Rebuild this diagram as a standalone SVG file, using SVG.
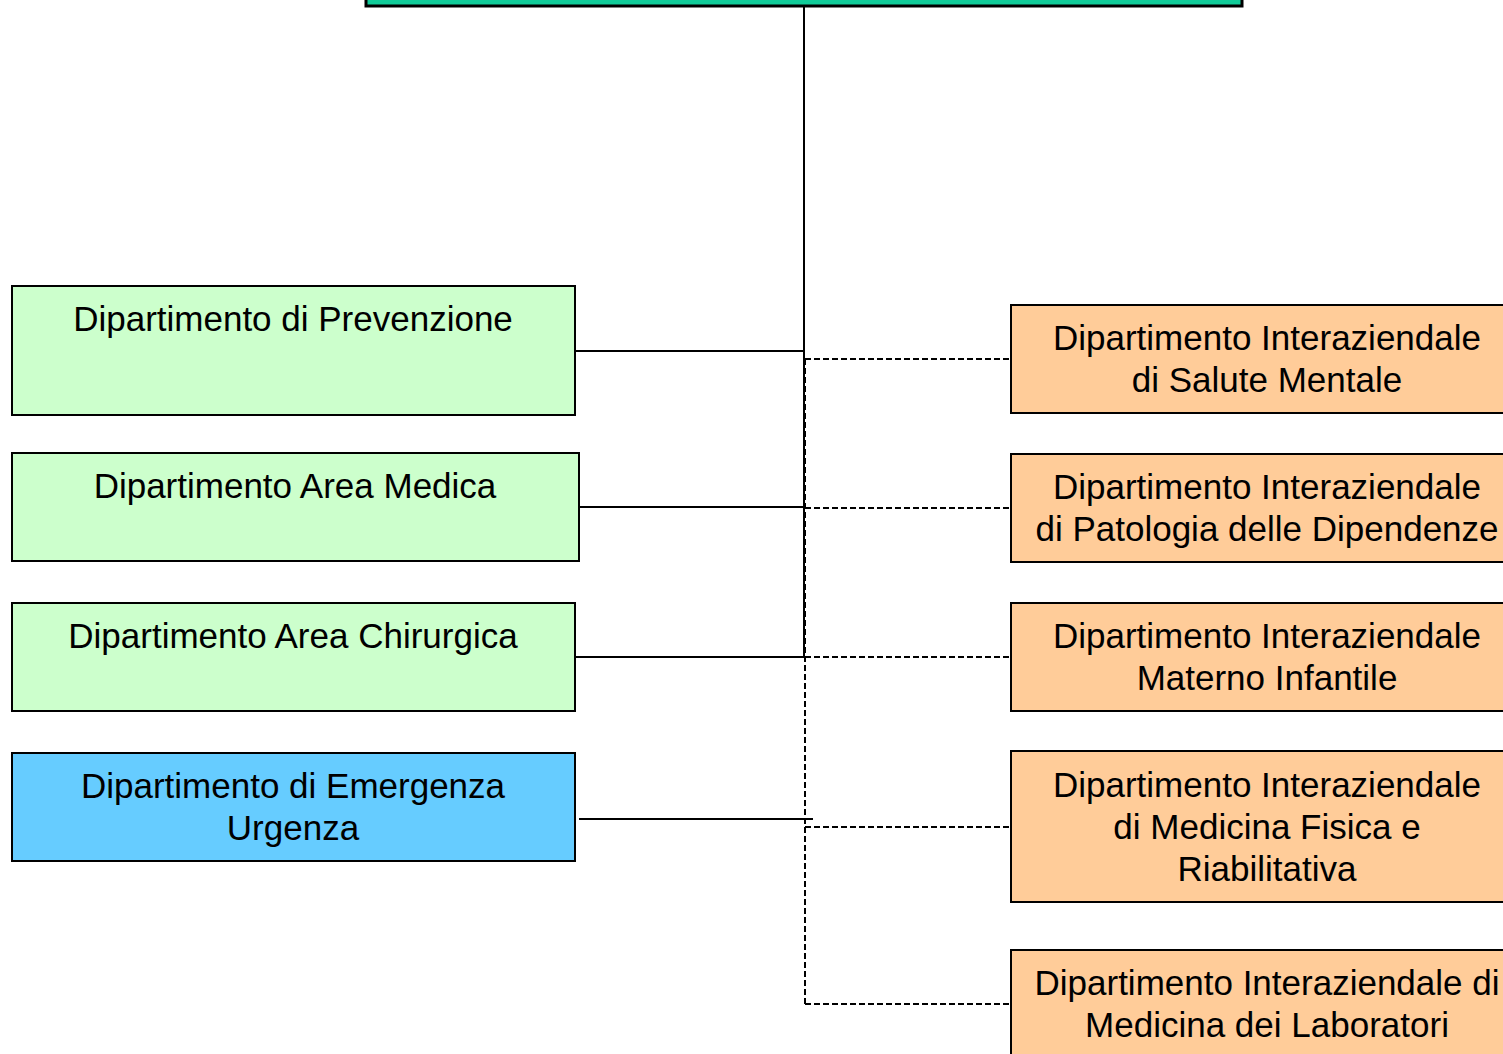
<svg xmlns="http://www.w3.org/2000/svg" width="1503" height="1054" viewBox="0 0 1503 1054">
<style>
.box{stroke:#000;stroke-width:2}
.g{fill:#CCFFCC}.b{fill:#66CCFF}.o{fill:#FFCC99}.t{fill:#11CC99;stroke-width:3}
text{font-family:"Liberation Sans",Arial,sans-serif;font-size:35px;fill:#000;text-anchor:middle}
.s{stroke:#000;stroke-width:2;fill:none}
.d{stroke:#000;stroke-width:2;fill:none;stroke-dasharray:6 3}
</style>
<rect width="1503" height="1054" fill="#fff"/>
<g id="connectors">
<line class="s" x1="804" y1="6" x2="804" y2="657"/>
<line class="d" x1="805" y1="359" x2="805" y2="1004"/>
<line class="s" x1="575" y1="351" x2="804" y2="351"/>
<line class="s" x1="579" y1="507" x2="804" y2="507"/>
<line class="s" x1="575" y1="657" x2="804" y2="657"/>
<line class="s" x1="579" y1="819" x2="813" y2="819"/>
<line class="d" x1="805" y1="359" x2="1011" y2="359"/>
<line class="d" x1="805" y1="508" x2="1011" y2="508"/>
<line class="d" x1="805" y1="657" x2="1011" y2="657"/>
<line class="d" x1="805" y1="827" x2="1011" y2="827"/>
<line class="d" x1="805" y1="1004" x2="1011" y2="1004"/>
</g>
<g id="top"><rect class="box t" x="366" y="-10" width="876" height="16"/></g>
<g id="prevenzione"><rect class="box g" x="12" y="286" width="563" height="129"/><text x="293" y="331">Dipartimento di Prevenzione</text></g>
<g id="medica"><rect class="box g" x="12" y="453" width="567" height="108"/><text x="295" y="498">Dipartimento Area Medica</text></g>
<g id="chirurgica"><rect class="box g" x="12" y="603" width="563" height="108"/><text x="293" y="648">Dipartimento Area Chirurgica</text></g>
<g id="emergenza"><rect class="box b" x="12" y="753" width="563" height="108"/><text x="293" y="798">Dipartimento di Emergenza</text><text x="293" y="840">Urgenza</text></g>
<g id="salute"><rect class="box o" x="1011" y="305" width="500" height="108"/><text x="1267" y="350">Dipartimento Interaziendale</text><text x="1267" y="392">di Salute Mentale</text></g>
<g id="dipendenze"><rect class="box o" x="1011" y="454" width="500" height="108"/><text x="1267" y="499">Dipartimento Interaziendale</text><text x="1267" y="541">di Patologia delle Dipendenze</text></g>
<g id="materno"><rect class="box o" x="1011" y="603" width="500" height="108"/><text x="1267" y="648">Dipartimento Interaziendale</text><text x="1267" y="690">Materno Infantile</text></g>
<g id="riabilitativa"><rect class="box o" x="1011" y="751" width="500" height="151"/><text x="1267" y="797">Dipartimento Interaziendale</text><text x="1267" y="839">di Medicina Fisica e</text><text x="1267" y="881">Riabilitativa</text></g>
<g id="laboratori"><rect class="box o" x="1011" y="950" width="500" height="120"/><text x="1267" y="995">Dipartimento Interaziendale di</text><text x="1267" y="1037">Medicina dei Laboratori</text></g>
</svg>
